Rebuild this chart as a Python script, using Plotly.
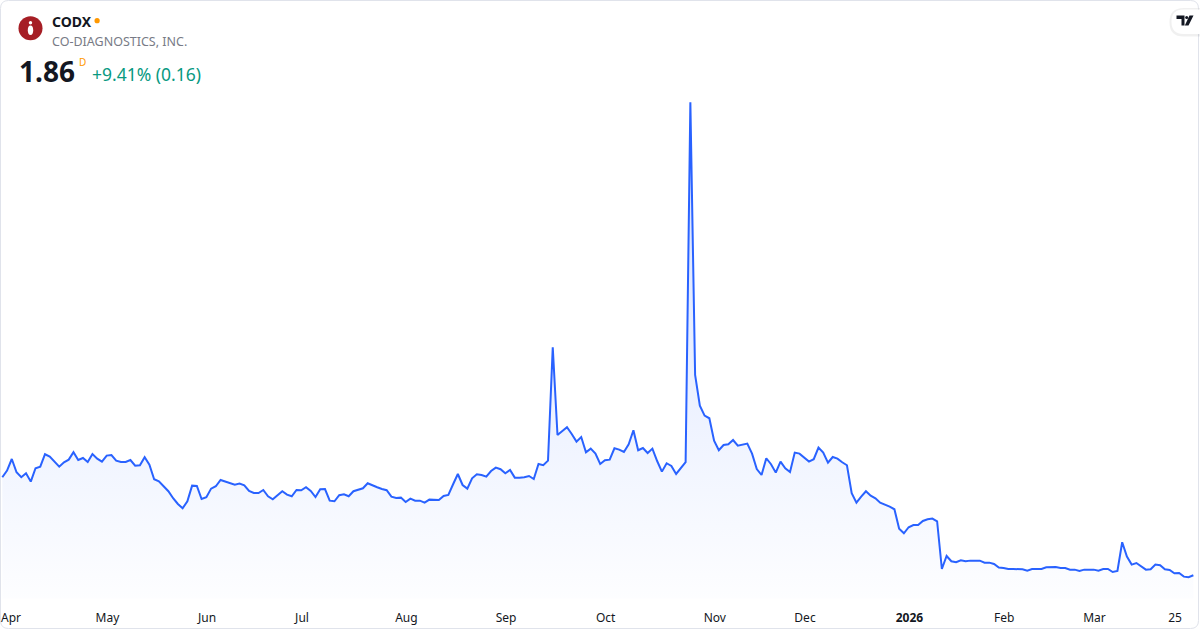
import plotly.graph_objects as go
import pandas as pd

# ---- data (daily closes) ----
prices = [
    9.70, 10.23, 11.16, 10.10, 9.70, 10.02, 9.35, 10.42, 10.55, 11.54,
    11.35, 10.95, 10.55, 10.90, 11.11, 11.70, 11.08, 11.24, 10.92, 11.56,
    11.19, 10.95, 11.43, 11.48, 11.03, 10.92, 10.92, 11.08, 10.63, 10.66,
    11.30, 10.71, 9.54, 9.38, 8.95, 8.58, 8.02, 7.56, 7.22, 7.78,
    9.03, 9.00, 7.96, 8.10, 8.79, 8.98, 9.48, 9.35, 9.27, 9.11,
    9.19, 9.06, 8.60, 8.44, 8.44, 8.68, 8.18, 7.94, 8.26, 8.58,
    8.31, 8.18, 8.68, 8.66, 8.90, 8.60, 8.12, 8.74, 8.76, 7.83,
    7.78, 8.26, 8.34, 8.18, 8.58, 8.68, 8.82, 9.22, 9.03, 8.90,
    8.76, 8.66, 8.15, 8.04, 8.07, 7.72, 7.99, 7.83, 7.83, 7.67,
    7.91, 7.88, 7.88, 8.20, 8.28, 9.14, 9.96, 9.08, 8.79, 9.62,
    9.94, 9.88, 9.75, 10.20, 10.47, 10.34, 10.02, 10.28, 9.67, 9.67,
    9.70, 9.80, 9.56, 10.76, 10.66, 11.03, 20.10, 13.08, 13.43, 13.70,
    13.16, 12.55, 12.92, 11.70, 11.99, 11.60, 10.76, 11.06, 11.11, 12.02,
    11.91, 11.72, 12.34, 13.46, 11.86, 12.04, 11.64, 11.99, 11.00, 10.15,
    10.82, 10.60, 9.96, 10.42, 10.90, 39.70, 17.88, 15.43, 14.63, 14.42,
    12.63, 11.86, 12.28, 12.34, 12.68, 12.23, 12.31, 12.39, 11.59, 10.36,
    9.88, 11.22, 10.74, 10.07, 10.95, 10.42, 10.12, 11.67, 11.59, 11.30,
    10.95, 11.14, 12.07, 11.67, 10.87, 11.32, 11.19, 10.90, 10.66, 8.42,
    7.67, 8.15, 8.58, 8.23, 8.02, 7.67, 7.54, 7.35, 7.14, 5.59,
    5.22, 5.70, 5.88, 5.88, 6.20, 6.34, 6.39, 6.18, 2.36, 3.40,
    2.98, 2.90, 3.06, 2.98, 3.03, 3.03, 3.03, 2.87, 2.87, 2.76,
    2.48, 2.44, 2.36, 2.36, 2.36, 2.34, 2.23, 2.36, 2.36, 2.36,
    2.50, 2.52, 2.52, 2.44, 2.44, 2.31, 2.31, 2.20, 2.31, 2.31,
    2.31, 2.23, 2.36, 2.36, 2.12, 2.20, 4.50, 3.35, 2.71, 2.84,
    2.55, 2.31, 2.34, 2.71, 2.66, 2.34, 2.28, 2.02, 2.04, 1.75,
    1.70, 1.86,
]

market_holidays = [
    "2025-04-18", "2025-05-26", "2025-06-19", "2025-07-04", "2025-09-01",
    "2025-11-27", "2025-12-25", "2026-01-01", "2026-01-19", "2026-02-16",
]

tick_months = ["2025-04", "2025-05", "2025-06", "2025-07", "2025-08", "2025-09",
               "2025-10", "2025-11", "2025-12", "2026-01", "2026-02", "2026-03"]
tick_labels = ["Apr", "May", "Jun", "Jul", "Aug", "Sep", "Oct", "Nov", "Dec",
               "<b>2026</b>", "Feb", "Mar", "25"]
extra_tick_date = "2026-03-25"

y_range = [-0.12, 47.88]

# ---- trading-day calendar ----
dates = [d.strftime("%Y-%m-%d") for d in pd.bdate_range("2025-03-28", "2026-03-30")]
dates = [d for d in dates if d not in market_holidays][:len(prices)]

tickvals = []
for m in tick_months:
    tickvals.append(next(d for d in dates if d.startswith(m)))
tickvals.append(extra_tick_date)

W, H = 1200, 630
PLOT_BOTTOM = 600


def fx(x):
    return x / W


def fy(y):
    return (PLOT_BOTTOM - y) / PLOT_BOTTOM


FONT = "Noto Sans, Open Sans, sans-serif"

fig = go.Figure()
fig.add_trace(go.Scatter(
    x=dates, y=prices, mode="lines",
    line=dict(color="#2962ff", width=2),
    fill="tozeroy",
    fillgradient=dict(
        type="vertical",
        colorscale=[[0, "rgba(41,98,255,0.01)"], [1, "rgba(41,98,255,0.20)"]],
    ),
    hoverinfo="skip",
    showlegend=False,
))


def rrect(x0, y0, x1, y1, r):
    return (f"M {fx(x0 + r)} {fy(y0)} L {fx(x1 - r)} {fy(y0)} "
            f"Q {fx(x1)} {fy(y0)} {fx(x1)} {fy(y0 + r)} "
            f"L {fx(x1)} {fy(y1 - r)} Q {fx(x1)} {fy(y1)} {fx(x1 - r)} {fy(y1)} "
            f"L {fx(x0 + r)} {fy(y1)} Q {fx(x0)} {fy(y1)} {fx(x0)} {fy(y1 - r)} "
            f"L {fx(x0)} {fy(y0 + r)} Q {fx(x0)} {fy(y0)} {fx(x0 + r)} {fy(y0)} Z")


shapes = [
    # card border
    dict(type="path", xref="paper", yref="paper", path=rrect(0.5, 0.5, 1198.5, 628.5, 8),
         line=dict(color="#e0e3eb", width=1), fillcolor="rgba(0,0,0,0)", layer="above"),
    # logo circle
    dict(type="circle", xref="paper", yref="paper",
         x0=fx(18.5), x1=fx(42.5), y0=fy(40.3), y1=fy(16.3),
         line=dict(width=0), fillcolor="#a61e25"),
    dict(type="circle", xref="paper", yref="paper",
         x0=fx(28.8), x1=fx(32.2), y0=fy(24.5), y1=fy(21.1),
         line=dict(width=0), fillcolor="white"),
    dict(type="circle", xref="paper", yref="paper",
         x0=fx(27.8), x1=fx(33.2), y0=fy(35), y1=fy(25.5),
         line=dict(width=0), fillcolor="white"),
    # TradingView pill (shadow + body)
    dict(type="path", xref="paper", yref="paper", path=rrect(1169.5, 8, 1214, 36.5, 14),
         line=dict(width=0), fillcolor="rgba(0,0,0,0.06)"),
    dict(type="path", xref="paper", yref="paper", path=rrect(1171.5, 9.5, 1212, 34, 12),
         line=dict(width=0), fillcolor="white"),
    # TV glyph
    dict(type="path", xref="paper", yref="paper",
         path=(f"M {fx(1176.5)} {fy(15.5)} L {fx(1184.5)} {fy(15.5)} L {fx(1184.5)} {fy(25.5)} "
               f"L {fx(1181.5)} {fy(25.5)} L {fx(1181.5)} {fy(19)} L {fx(1176.5)} {fy(19)} Z"),
         line=dict(width=0), fillcolor="#131722"),
    dict(type="circle", xref="paper", yref="paper",
         x0=fx(1185.2), x1=fx(1188.2), y0=fy(19), y1=fy(16),
         line=dict(width=0), fillcolor="#131722"),
    dict(type="path", xref="paper", yref="paper",
         path=(f"M {fx(1189.5)} {fy(15.5)} L {fx(1193.5)} {fy(15.5)} L {fx(1188.5)} {fy(25.5)} "
               f"L {fx(1184.8)} {fy(25.5)} Z"),
         line=dict(width=0), fillcolor="#131722"),
    # orange status dot
    dict(type="circle", xref="paper", yref="paper",
         x0=fx(94.5), x1=fx(99.7), y0=fy(23.3), y1=fy(18.1),
         line=dict(width=0), fillcolor="#ff9800"),
]

annotations = [
    dict(x=fx(50), y=fy(21), text="<b>CODX</b>", font=dict(size=14, color="#131722", family=FONT)),
    dict(x=fx(50), y=fy(41), text="CO-DIAGNOSTICS, INC.", font=dict(size=12.5, color="#787b86", family=FONT)),
    dict(x=fx(16.5), y=fy(71), text="<b>1.86</b>", font=dict(size=28, color="#131722", family=FONT)),
    dict(x=fx(76.5), y=fy(61.5), text="D", font=dict(size=10, color="#ff9800", family=FONT)),
    dict(x=fx(89.5), y=fy(74), text="+9.41% (0.16)", font=dict(size=17.5, color="#089981", family=FONT)),
]
for a in annotations:
    a.update(xref="paper", yref="paper", xanchor="left", yanchor="middle", showarrow=False)

# first month label drawn as an annotation at its tick (kept inside the card like the reference)
annotations.append(dict(
    x=tickvals[0], xref="x", y=fy(617), yref="paper", text=tick_labels[0],
    xanchor="center", yanchor="middle", xshift=-1, showarrow=False,
    font=dict(size=12, color="#131722", family=FONT),
))

fig.update_layout(
    width=W, height=H,
    margin=dict(l=0, r=0, t=0, b=H - PLOT_BOTTOM),
    paper_bgcolor="white", plot_bgcolor="white",
    font=dict(family=FONT, color="#131722", size=12),
    shapes=shapes, annotations=annotations,
    xaxis=dict(
        type="category", range=[-0.485, 252.4],
        tickmode="array", tickvals=tickvals[1:], ticktext=tick_labels[1:],
        showgrid=False, zeroline=False, showline=False,
        ticks="outside", ticklen=7, tickcolor="rgba(0,0,0,0)",
        ticklabelshift=-4,
        tickfont=dict(size=12, color="#131722", family=FONT),
        fixedrange=True,
    ),
    yaxis=dict(
        range=y_range, visible=False, showgrid=False, zeroline=False, fixedrange=True,
    ),
    showlegend=False,
)

fig.write_html(
    "out.html",
    config={"displayModeBar": False},
    post_script="document.body.style.margin='0';document.body.style.overflow='hidden';",
)
